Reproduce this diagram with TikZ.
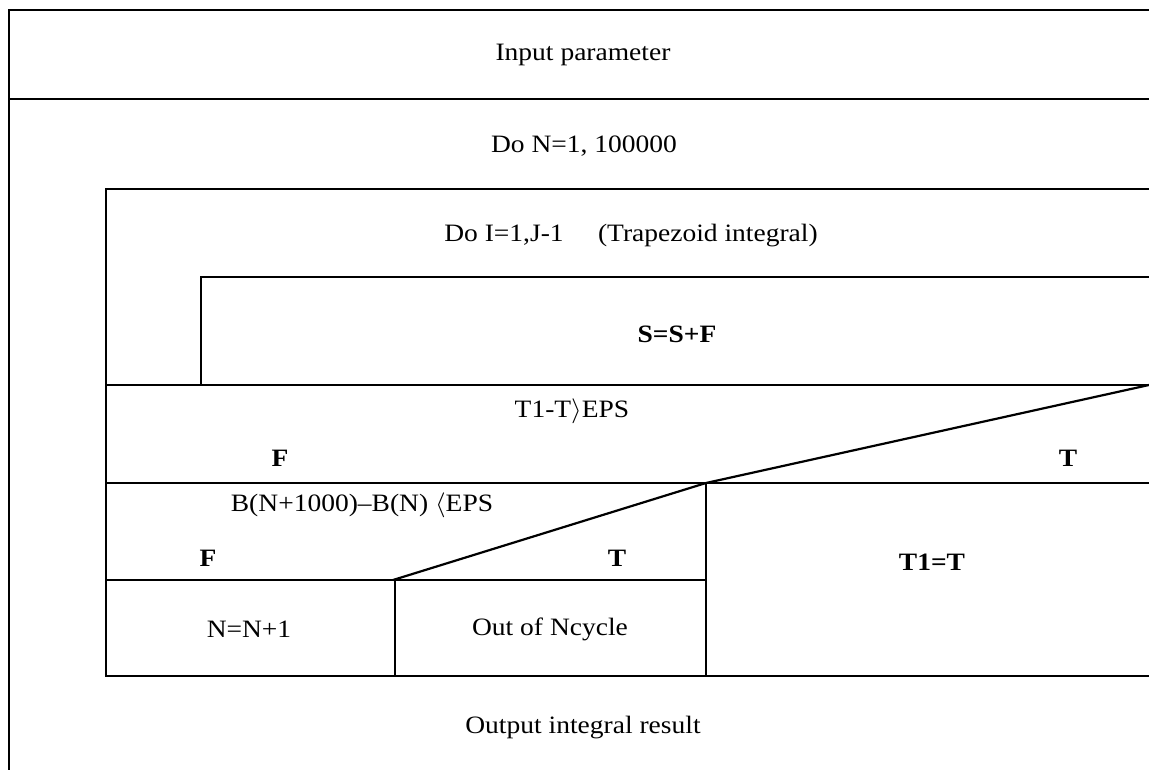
\documentclass[tikz,border=0pt]{standalone}
\usepackage{fontspec}
\setmainfont{Liberation Serif}
\newcommand{\wtx}[1]{\scalebox{1.1}[1]{#1}}
\tikzset{
  lbl/.style={font=\fontsize{25}{28}\selectfont, inner sep=0pt, anchor=center},
  blbl/.style={lbl, font=\fontsize{25}{28}\selectfont\bfseries},
  frame/.style={line width=1.8pt, line cap=rect},
  diag/.style={line width=2.2pt}
}
\begin{document}
\begin{tikzpicture}[x=1pt, y=-1pt]
\useasboundingbox (0,0) rectangle (1149,770);
% outer structure
\draw[frame] (1149,10) -- (9,10) -- (9,770);
\draw[frame] (9,99) -- (1149,99);
% Do N loop box
\draw[frame] (1149,189) -- (106,189) -- (106,676) -- (1149,676);
% Do I loop box
\draw[frame] (1149,277) -- (201,277) -- (201,385);
\draw[frame] (106,385) -- (1149,385);
% T1-T>EPS decision
\coordinate (d1a) at (706,483);
\coordinate (d1b) at (1149,385);
\draw[diag] (d1a) -- (d1b);
\draw[frame] (106,483) -- (1149,483);
% B decision
\coordinate (d2a) at (393,580);
\coordinate (d2b) at (706,483);
\draw[diag] (d2a) -- (d2b);
\draw[frame] (106,580) -- (706,580);
\draw[frame] (395,580) -- (395,676);
\draw[frame] (706,483) -- (706,676);
% texts
\node[lbl] (inp) at (583,55) {\wtx{Input parameter}};
\node[lbl] (don) at (584,146) {\wtx{Do N=1, 100000}};
\node[lbl] (doi) at (631,236) {\wtx{Do I=1,J-1\hspace{1em} (Trapezoid integral)}};
\node[blbl] (ssf) at (677,334) {\wtx{S=S+F}};
\node[lbl] (c1) at (572,411) {\wtx{T1-T$\rangle$EPS}};
\node[blbl] (f1) at (280,458) {\wtx{F}};
\node[blbl] (t1) at (1068,458) {\wtx{T}};
\node[lbl] (c2) at (362,505) {\wtx{B(N+1000)\textendash B(N) $\langle$EPS}};
\node[blbl] (f2) at (208,558) {\wtx{F}};
\node[blbl] (t2) at (617,558) {\wtx{T}};
\node[lbl] (nn) at (249,629) {\wtx{N=N+1}};
\node[lbl] (out) at (550,629) {\wtx{Out of Ncycle}};
\node[blbl] (t1t) at (932,562) {\wtx{T1=T}};
\node[lbl] (res) at (583,728) {\wtx{Output integral result}};
\end{tikzpicture}
\end{document}
